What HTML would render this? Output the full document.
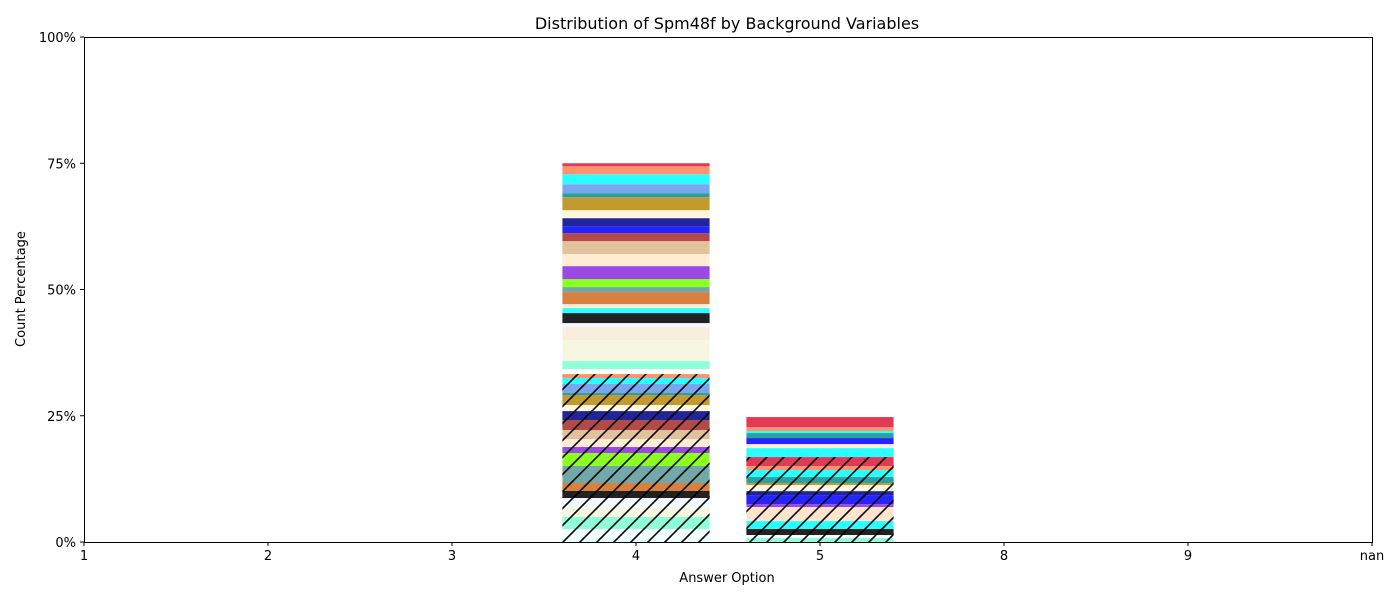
<!DOCTYPE html>
<html><head><meta charset="utf-8"><style>
html,body{margin:0;padding:0;background:#fff;}
svg{display:block;font-family:"DejaVu Sans","Liberation Sans",sans-serif;}
</style></head><body>
<svg id="chart" width="1400" height="600" xmlns="http://www.w3.org/2000/svg">
<defs>
<pattern id="hatch" patternUnits="userSpaceOnUse" width="17" height="17">
<path d="M-2,19 L19,-2 M-4,4 L4,-4 M13,21 L21,13" stroke="#000" stroke-width="1.6"/>
</pattern>
</defs>
<text x="727" y="29" font-size="16" text-anchor="middle">Distribution of Spm48f by Background Variables</text>
<g id="bars"></g>
<g id="axes"></g>
<text x="727" y="582" font-size="13" text-anchor="middle">Answer Option</text>
<text x="0" y="0" font-size="13" text-anchor="middle" transform="translate(25,289) rotate(-90)">Count Percentage</text>
</svg>
<script>
const categories = ["1","2","3","4","5","8","9","nan"];
const yTicks = [0,25,50,75,100];
const yTickLabels = ["0%","25%","50%","75%","100%"];
// bar at "4": bottom to top
const bar4Values = [2.57,2.38,1.78,1.98,1.39,1.58,3.37,2.57,1.19,1.58,1.78,1.98,1.78,1.19,1.98,0.40,1.78,1.19,0.79,
  0.99,1.58,4.16,2.57,0.79,1.98,0.99,0.79,2.38,0.99,1.58,2.57,2.38,2.57,1.58,1.39,1.58,1.58,2.57,0.79,1.78,1.98,1.58,0.59];
const bar4Colors = ["#f0ffff","#8effd8","#f5f5e0","#f2f8ff","#222222","#d88040","#72a8aa","#8aff22","#9a4ae2","#ffecd4","#e2c29a","#b24a48","#22259a","#fff8de","#c29a30","#2aa0a0","#7aa6ee","#2affff","#ff936e",
  "#ffffff","#8effd8","#f5f5e0","#f8eedd","#f2f8ff","#222222","#2affff","#ffecd4","#d88040","#72a8aa","#8aff22","#9a4ae2","#ffecd4","#e2c29a","#b24a48","#2525ff","#22259a","#fff8de","#c29a30","#2aa0a0","#7aa6ee","#2affff","#ff936e","#e23a55"];
const bar4Hatched = 19;
const bar5Values = [0.79,0.59,1.19,1.58,2.77,0.59,1.78,0.79,1.19,0.40,1.19,1.39,0.79,1.78,
  1.78,0.79,1.19,0.99,0.40,0.79,1.98];
const bar5Colors = ["#8effd8","#ffffff","#222222","#2affff","#ffe4cc","#9a4ae2","#2525ff","#22259a","#fff8de","#c29a30","#2aa0a0","#2affff","#ff936e","#e23a55",
  "#2affff","#ffecd4","#2525ff","#2aa0a0","#2affff","#ff936e","#e23a55"];
const bar5Hatched = 14;

const NS="http://www.w3.org/2000/svg";
const L=84,R=1372,T=37,B=542;
function xPos(i){return L+(R-L)*i/(categories.length-1);}
function yPos(v){return B-(B-T)*v/100;}
const bw=(R-L)/(categories.length-1)*0.8;
const bars=document.getElementById('bars');
function drawBar(cat,vals,cols,nh){
  const cx=xPos(categories.indexOf(cat));let acc=0;
  vals.forEach((v,k)=>{
    const y1=yPos(acc+v),y0=yPos(acc);acc+=v;
    const r=document.createElementNS(NS,'rect');
    r.setAttribute('x',cx-bw/2);r.setAttribute('y',y1);r.setAttribute('width',bw);r.setAttribute('height',y0-y1);r.setAttribute('fill',cols[k]);
    
    
    bars.appendChild(r);
    if(k<nh){
      const h=document.createElementNS(NS,'rect');
      h.setAttribute('x',cx-bw/2);h.setAttribute('y',y1);h.setAttribute('width',bw);h.setAttribute('height',y0-y1);h.setAttribute('fill','url(#hatch)');
      
      
      bars.appendChild(h);
    }
  });
}
drawBar("4",bar4Values,bar4Colors,bar4Hatched);
drawBar("5",bar5Values,bar5Colors,bar5Hatched);
const ax=document.getElementById('axes');
const fr=document.createElementNS(NS,'rect');
fr.setAttribute('x',L+0.5);fr.setAttribute('y',T+0.5);fr.setAttribute('width',R-L);fr.setAttribute('height',B-T);
fr.setAttribute('fill','none');fr.setAttribute('stroke','#000');fr.setAttribute('stroke-width','1');


ax.appendChild(fr);
categories.forEach((c,i)=>{
  const x=xPos(i);
  const t=document.createElementNS(NS,'line');
  t.setAttribute('x1',x);t.setAttribute('x2',x);t.setAttribute('y1',B);t.setAttribute('y2',B+4);t.setAttribute('stroke','#000');
  
  
  ax.appendChild(t);
  const tx=document.createElementNS(NS,'text');
  tx.setAttribute('x',x);tx.setAttribute('y',B+18);tx.setAttribute('font-size','13');tx.setAttribute('text-anchor','middle');tx.textContent=c;
  
  
  ax.appendChild(tx);
});
yTicks.forEach((v,i)=>{
  const y=yPos(v);
  const t=document.createElementNS(NS,'line');
  t.setAttribute('x1',L-4);t.setAttribute('x2',L);t.setAttribute('y1',y);t.setAttribute('y2',y);t.setAttribute('stroke','#000');
  
  
  ax.appendChild(t);
  const tx=document.createElementNS(NS,'text');
  tx.setAttribute('x',L-8);tx.setAttribute('y',y+5);tx.setAttribute('font-size','13');tx.setAttribute('text-anchor','end');tx.textContent=yTickLabels[i];
  
  
  ax.appendChild(tx);
});
</script>
</body></html>
